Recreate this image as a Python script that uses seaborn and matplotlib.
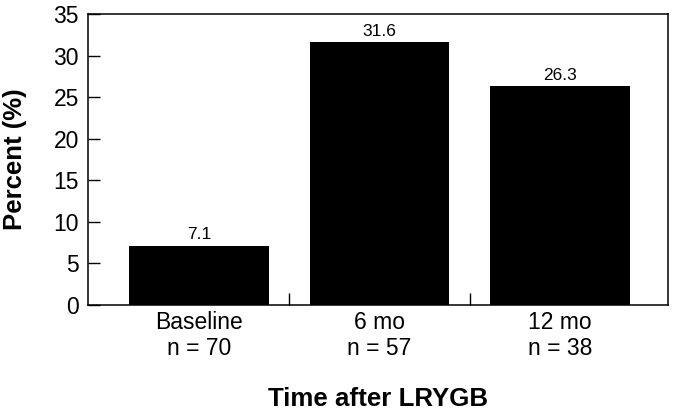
import matplotlib
matplotlib.use("Agg")
import matplotlib.pyplot as plt
import seaborn as sns
import pandas as pd

categories = ["Baseline\nn = 70", "6 mo\nn = 57", "12 mo\nn = 38"]
values = [7.1, 31.6, 26.3]
value_labels = ["7.1", "31.6", "26.3"]
yticks = [0, 5, 10, 15, 20, 25, 30, 35]

sns.set_theme(style="ticks", rc={
    "axes.edgecolor": "black", "text.color": "black",
    "axes.labelcolor": "black", "xtick.color": "black", "ytick.color": "black",
    "xtick.direction": "in", "ytick.direction": "in",
})
plt.rcParams["font.family"] = ["Liberation Sans", "DejaVu Sans"]

df = pd.DataFrame({"cat": categories, "val": values})

fig = plt.figure(figsize=(6.75, 4.12), dpi=100)
ax = fig.add_axes([88/675, 1-305/412, 580/675, 291/412])
sns.barplot(data=df, x="cat", y="val", color="black", width=0.775,
            saturation=1, ax=ax, edgecolor="none")

for p, lab in zip(ax.patches, value_labels):
    ax.annotate(lab, (p.get_x() + p.get_width()/2, p.get_height()),
                xytext=(0, 2.5), textcoords="offset points",
                ha="center", va="bottom", fontsize=12.5, color="black")

ax.set_xlim(-0.615, 2.598)
ax.set_ylim(0, 35)
ax.set_yticks(yticks)
ax.set_yticklabels([str(t) for t in yticks])
ax.tick_params(axis="y", direction="in", length=8.5, width=1, pad=6.5,
               labelsize=16.5, color="black", labelcolor="black")
ax.tick_params(axis="x", which="major", length=0, pad=4, labelsize=16.5,
               labelcolor="black")
ax.set_xticks([0.5, 1.5], minor=True)
ax.tick_params(axis="x", which="minor", direction="in", length=8.5, width=1,
               color="black")
for s in ax.spines.values():
    s.set_visible(True)
    s.set_linewidth(1.1)
    s.set_color("black")

ax.set_ylabel("Percent (%)", fontsize=18.5, fontweight="bold", labelpad=19)
ax.set_xlabel("Time after LRYGB", fontsize=18.6, fontweight="bold", labelpad=19)

fig.savefig("out.png", dpi=100)
